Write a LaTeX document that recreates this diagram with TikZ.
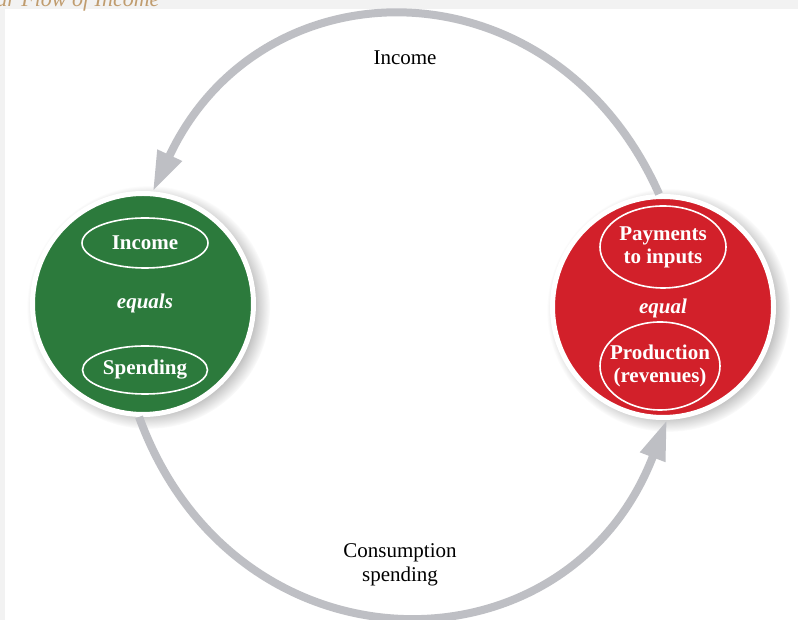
\documentclass[tikz,border=0pt]{standalone}
\usepackage{fontspec}
\setmainfont{Liberation Serif}
\usetikzlibrary{arrows.meta,shapes.geometric,shadows}
\definecolor{spendgreen}{RGB}{44,122,60}
\definecolor{prodred}{RGB}{210,32,42}
\definecolor{flowgray}{RGB}{190,191,196}
\definecolor{pagegray}{RGB}{242,242,242}
\definecolor{titletan}{RGB}{192,156,110}

\tikzset{
  sector/.style={circle,draw=white,line width=5pt,minimum size=221pt,inner sep=0pt,
    circular drop shadow={shadow xshift=5pt,shadow yshift=-3pt,shadow scale=1.1,opacity=0.55}},
  part/.style={ellipse,draw=white,line width=1.6pt,text=white,align=center,inner sep=0pt,
    font=\fontsize{21}{23}\selectfont\bfseries},
  link/.style={text=white,font=\fontsize{21}{23}\selectfont\bfseries\itshape},
  flow/.style={->,color=flowgray,line width=8pt},
  flowtext/.style={align=center,font=\fontsize{21}{24}\selectfont}
}

\begin{document}
\begin{tikzpicture}[line join=round,>={Triangle[length=40pt,width=25pt]},x=1pt,y=1pt]
    \useasboundingbox (0,0) rectangle (798,620);
    \fill[color=pagegray] (0,0) rectangle (798,620);
    \fill[color=white] (5,0) rectangle (798,611);
    \begin{scope}
      \clip (0,0) rectangle (798,620);
      \node[anchor=base east,color=titletan,font=\fontsize{22}{26}\selectfont\itshape] (title) at (163,613) {Circular Flow of Income};
    \end{scope}
    % households and firms
    \node[sector,fill=spendgreen] (spend) at (143,316) {};
    \node[sector,fill=prodred] (prod) at (663,313) {};
    \node[part,minimum width=126pt,minimum height=50pt] (inc) at (145,377) {Income};
    \node[link] (eqs) at (145,317) {equals};
    \node[part,minimum width=125pt,minimum height=48pt] (spd) at (145,250) {Spending};
    \node[part,minimum width=126pt,minimum height=82pt] (pay) at (663,373) {Payments\\to inputs};
    \node[link] (eq) at (663,312) {equal};
    \node[part,minimum width=120pt,minimum height=88pt,inner xsep=-8pt] (rev) at (660,254) {Production\\(revenues)};
    % the two flows
    \draw[flow] (prod.92) to[out=114,in=65,looseness=1.3] (spend.85);
    \draw[flow] (spend.268) to[out=290,in=249,looseness=1.35] (prod.272);
    \node[flowtext] (inflow) at (405,562) {Income};
    \node[flowtext] (outflow) at (400,55) {Consumption\\spending};
\end{tikzpicture}
\end{document}
